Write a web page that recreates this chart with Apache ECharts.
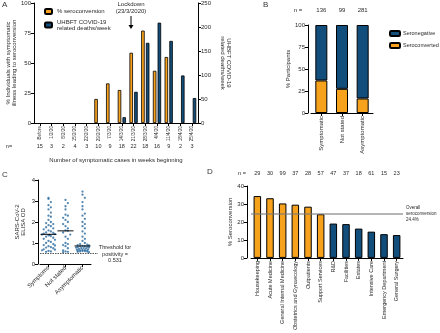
<!DOCTYPE html>
<html>
<head>
<meta charset="utf-8">
<script src="https://cdn.jsdelivr.net/npm/echarts@6/dist/echarts.min.js"></script>
<style>
html, body { margin: 0; padding: 0; background: #fff; }
#chart { width: 440px; height: 333px; }
</style>
</head>
<body>
<div id="chart"></div>
<script>
// panel A
let weeks = ['Before', '1/2/20', '8/2/20', '15/2/20', '22/2/20', '29/2/20', '7/3/20', '14/3/20', '21/3/20', '28/3/20', '4/4/20', '11/4/20', '18/4/20', '25/4/20'];
let weekN = [15, 3, 2, 4, 3, 10, 9, 18, 22, 18, 16, 9, 2, 3];
let seroPct = [null, null, null, null, null, 20, 33, 27.5, 58.5, 77, 43.5, 55, null, null];
let deathsWeek = [null, null, null, null, null, null, null, 12, 65, 167, 209, 171, 99, 52];

// panel B
let groups = ['Symptomatic', 'Not stated', 'Asymptomatic'];
let groupN = [136, 99, 281];
let seroconverted = [37, 27.5, 16.5];
let seronegative = [63, 72.5, 83.5];

// panel C
let odGroups = ['Symptoms', 'Not stated', 'Asymptomatic'];
let odSymptoms = [3.15, 3.1, 2.95, 2.8, 2.7, 2.6, 2.45, 2.3, 2.25, 2.1, 2.0, 1.95, 1.9, 1.85, 1.8, 1.75, 1.7, 1.65, 1.6, 1.55, 1.5, 1.48, 1.45, 1.42, 1.4, 1.38, 1.36, 1.33, 1.3, 1.25, 1.2, 1.15, 1.1, 1.05, 1.0, 0.95, 0.9, 0.88, 0.85, 0.8, 0.78, 0.75, 0.7, 0.68, 0.65, 0.62, 0.6, 0.58];
let odNotStated = [3.05, 2.9, 2.75, 2.6, 2.35, 2.3, 2.2, 2.1, 2.0, 1.9, 1.8, 1.7, 1.6, 1.58, 1.5, 1.4, 1.3, 1.2, 1.0, 0.95, 0.9, 0.85, 0.75, 0.65, 0.6, 0.58, 0.56];
let odAsymptomatic = [3.45, 3.3, 3.15, 2.95, 2.75, 2.6, 2.4, 2.3, 2.15, 2.0, 1.9, 1.8, 1.7, 1.55, 1.45, 1.3, 1.2, 1.1, 1.0, 0.95, 0.92, 0.9, 0.88, 0.86, 0.85, 0.84, 0.82, 0.8, 0.79, 0.78, 0.76, 0.75, 0.74, 0.72, 0.7, 0.68, 0.67, 0.66, 0.65, 0.64, 0.63, 0.62, 0.61, 0.6, 0.59, 0.58, 0.56];
let threshold = 0.531;

// panel D
let depts = ['Housekeeping', 'Acute Medicine', 'General Internal Medicine', 'Obstetrics and Gynaecology', 'Outpatients', 'Support Services', 'R&D', 'Facilities', 'Estates', 'Intensive Care', 'Emergency Department', 'General Surgery'];
let deptN = [29, 30, 99, 37, 28, 57, 47, 37, 18, 61, 15, 23];
let deptPct = [34.4, 33.2, 30.3, 29.6, 28.5, 24.3, 19.1, 18.8, 16.3, 14.6, 13.2, 12.7];
let overallPct = 24.4;
let orangeDepts = 6;

const ORANGE = '#F7A21C';
const BLUE = '#124E7C';
const DOT = '#2A6A9E';
const FONT = 'Liberation Sans';
const TXT = '#2a2a2a';

let myChart = echarts.init(document.getElementById('chart'));

function median(arr) {
    let s = arr.slice().sort(function (a, b) { return a - b; });
    let m = Math.floor(s.length / 2);
    return s.length % 2 ? s[m] : (s[m - 1] + s[m]) / 2;
}

// simple beeswarm spread, only moves points sideways
let spread = [0, 0.14, -0.14, 0.28, -0.28, 0.38, -0.38, 0.07, -0.07, 0.21, -0.21, 0.33, -0.33];
function swarm(values, gi) {
    let bins = {};
    return values.map(function (v) {
        let b = Math.round(v / 0.25);
        let k = bins[b] || 0;
        bins[b] = k + 1;
        return [gi + spread[k % spread.length], v];
    });
}

let odAll = [odSymptoms, odNotStated, odAsymptomatic];
let dots = [];
odAll.forEach(function (vals, i) { dots = dots.concat(swarm(vals, i)); });
let medians = odAll.map(function (vals, i) { return [i, median(vals)]; });

let axLine = { show: true, lineStyle: { color: '#000', width: 1 } };
let axTick = { show: true, length: 3, lineStyle: { color: '#000', width: 1 } };
let lbl = { fontSize: 6, color: TXT, fontFamily: FONT };
let nm = { fontSize: 6, color: TXT, fontFamily: FONT };

function valAxis(grid, max, step, name, gap, off) {
    return {
        type: 'value', gridIndex: grid, min: 0, max: max, interval: step, offset: off || 0,
        axisLine: axLine, axisTick: axTick, splitLine: { show: false },
        axisLabel: Object.assign({ margin: 3 }, lbl),
        name: name, nameLocation: 'middle', nameGap: gap, nameTextStyle: nm
    };
}

function catAxis(grid, data, rotate, size) {
    return {
        type: 'category', gridIndex: grid, data: data,
        axisLine: axLine, axisTick: Object.assign({ alignWithLabel: true }, axTick),
        axisLabel: Object.assign({}, lbl, { rotate: rotate, margin: 3, interval: 0, fontSize: size || 6 })
    };
}

function nRow(grid, data, pos, offset, size) {
    return {
        type: 'category', gridIndex: grid, data: data, position: pos, offset: offset,
        axisLine: { show: false }, axisTick: { show: false },
        axisLabel: Object.assign({}, lbl, { interval: 0, margin: 0, fontSize: size || 6 })
    };
}

function txt(x, y, s, size, align) {
    return {
        type: 'text', x: x, y: y,
        style: { text: s, fontSize: size, fill: TXT, fontFamily: FONT, align: align || 'center', verticalAlign: 'middle' }
    };
}

let cWidth = 51, c2Width = 58;

let option = {
    animation: false,
    textStyle: { fontFamily: FONT },
    grid: [
        { left: 34, top: 3, width: 164, height: 120 },
        { left: 311, top: 25, width: 62, height: 88 },
        { left: 40, top: 180, width: cWidth, height: 84 },
        { left: 40, top: 180, width: c2Width, height: 84 },
        { left: 251, top: 186, width: 152, height: 76 }
    ],
    xAxis: [
        Object.assign(catAxis(0, weeks, 90, 4.6), {
            name: 'Number of symptomatic cases in weeks beginning',
            nameLocation: 'middle', nameGap: 34, nameTextStyle: nm
        }),
        nRow(0, weekN, 'bottom', 20, 5.5),
        catAxis(1, groups, 90),
        nRow(1, groupN, 'top', 12),
        catAxis(2, odGroups, 45),
        { type: 'value', gridIndex: 3, min: -0.5, max: -0.5 + 3 * c2Width / cWidth, show: false },
        catAxis(4, depts, 90, 5.5),
        nRow(4, deptN, 'top', 10, 5.5)
    ],
    yAxis: [
        valAxis(0, 100, 25, '% Individuals with symptomatic\nillness leading to seroconversion', 15),
        Object.assign(valAxis(0, 250, 50, 'UHBFT COVID-19\nrelated deaths/week', 22), { position: 'right', nameRotate: -90 }),
        valAxis(1, 100, 25, '% Participants', 15, 3),
        valAxis(2, 4, 1, 'SARS-CoV-2\nELISA OD', 12, 2),
        { type: 'value', gridIndex: 3, min: 0, max: 4, show: false },
        valAxis(4, 40, 10, '% Seroconversion', 14, 4)
    ],
    legend: [
        {
            data: ['% seroconversion', 'UHBFT COVID-19 related deaths/week'],
            orient: 'vertical', left: 39, top: 3, itemWidth: 7, itemHeight: 5, itemGap: 4,
            textStyle: { fontSize: 6, color: TXT, fontFamily: FONT },
            formatter: function (name) { return name.replace(' related', '\nrelated'); }
        },
        {
            data: ['Seronegative', 'Seroconverted'],
            orient: 'vertical', left: 384, top: 25, itemWidth: 10, itemHeight: 5, itemGap: 5,
            textStyle: { fontSize: 5.5, color: TXT, fontFamily: FONT, padding: [0, 0, 0, -2] }
        }
    ],
    series: [
        {
            name: '% seroconversion', type: 'bar', xAxisIndex: 0, yAxisIndex: 0,
            barWidth: 3.5, barGap: '35%', data: seroPct,
            itemStyle: { color: ORANGE, borderColor: '#000', borderWidth: 0.8 }
        },
        {
            name: 'UHBFT COVID-19 related deaths/week', type: 'bar', xAxisIndex: 0, yAxisIndex: 1,
            barWidth: 3.5, data: deathsWeek,
            itemStyle: { color: BLUE, borderColor: '#000', borderWidth: 0.8 }
        },
        {
            name: 'Seroconverted', type: 'bar', stack: 'b', xAxisIndex: 2, yAxisIndex: 2,
            barWidth: 12, data: seroconverted,
            itemStyle: { color: ORANGE, borderColor: '#000', borderWidth: 1 }
        },
        {
            name: 'Seronegative', type: 'bar', stack: 'b', xAxisIndex: 2, yAxisIndex: 2,
            barWidth: 12, data: seronegative,
            itemStyle: { color: BLUE, borderColor: '#000', borderWidth: 1 }
        },
        {
            name: 'OD', type: 'scatter', xAxisIndex: 5, yAxisIndex: 4,
            symbolSize: 2.3, data: dots, itemStyle: { color: DOT },
            markLine: {
                silent: true, symbol: 'none', label: { show: false },
                lineStyle: { color: '#555', type: [1.5, 1], width: 1 },
                data: [{ yAxis: threshold }]
            }
        },
        {
            name: 'median', type: 'scatter', xAxisIndex: 5, yAxisIndex: 4,
            symbol: 'rect', symbolSize: [16, 1.2], data: medians,
            itemStyle: { color: '#000' }, z: 3
        },
        {
            name: 'dept', type: 'bar', xAxisIndex: 6, yAxisIndex: 5,
            barWidth: 7.5, data: deptPct,
            itemStyle: {
                borderColor: '#000', borderWidth: 1,
                color: function (p) { return p.dataIndex < orangeDepts ? ORANGE : BLUE; }
            },
            markLine: {
                silent: true, symbol: 'none',
                lineStyle: { color: 'rgba(120,120,120,0.55)', type: 'solid', width: 2 },
                label: {
                    show: true, position: 'end', distance: 3,
                    formatter: 'Overall\nseroconversion\n' + overallPct + '%',
                    fontSize: 4.5, color: TXT, fontFamily: FONT, lineHeight: 6
                },
                data: [{ yAxis: overallPct }]
            }
        }
    ],
    graphic: [
        { type: 'text', left: 2, top: 1, style: { text: 'A', fontSize: 8, fill: '#333', fontFamily: FONT } },
        { type: 'text', left: 263, top: 1, style: { text: 'B', fontSize: 8, fill: '#333', fontFamily: FONT } },
        { type: 'text', left: 2, top: 171, style: { text: 'C', fontSize: 8, fill: '#333', fontFamily: FONT } },
        { type: 'text', left: 207, top: 168, style: { text: 'D', fontSize: 8, fill: '#333', fontFamily: FONT } },
        txt(9, 146, 'n=', 5.5),
        txt(298, 10, 'n =', 6),
        txt(242, 173, 'n =', 5.5),
        {
            type: 'text', x: 131, y: 1,
            style: { text: 'Lockdown\n(23/3/2020)', fontSize: 6, lineHeight: 7, fill: TXT, fontFamily: FONT, align: 'center' }
        },
        { type: 'line', shape: { x1: 131, y1: 16, x2: 131, y2: 26 }, style: { stroke: '#000', lineWidth: 1 } },
        { type: 'polygon', shape: { points: [[128.5, 25], [133.5, 25], [131, 29]] }, style: { fill: '#000' } },
        {
            type: 'text', x: 115, y: 254,
            style: { text: 'Threshold for\npositivity =\n' + threshold, fontSize: 5.5, lineHeight: 6.5, fill: TXT, fontFamily: FONT, align: 'center', verticalAlign: 'middle' }
        }
    ]
};

myChart.setOption(option);
</script>
</body>
</html>
